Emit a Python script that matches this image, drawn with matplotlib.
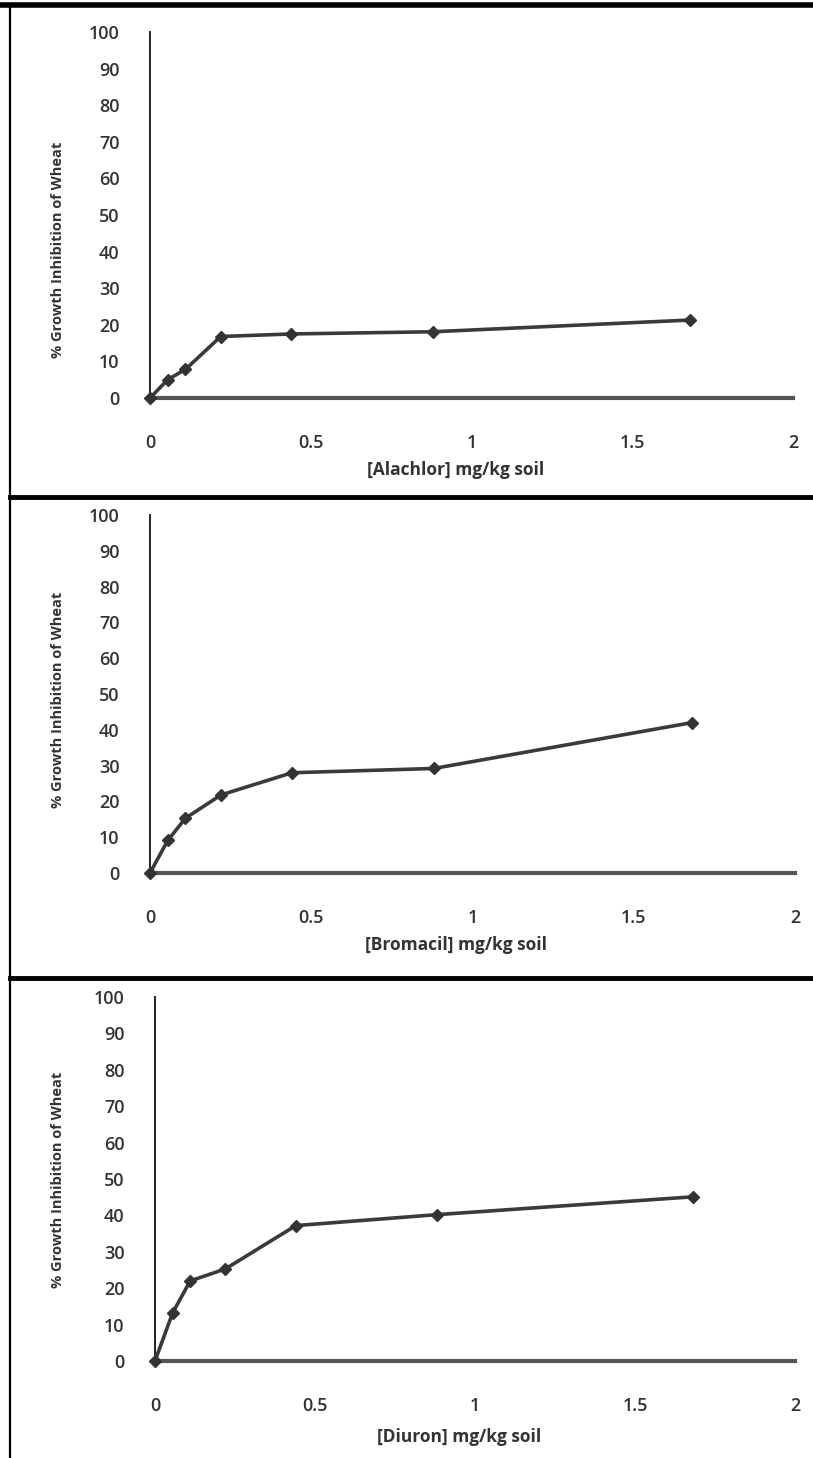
import matplotlib.pyplot as plt
from matplotlib.lines import Line2D

# dose series (mg/kg soil), same for all three herbicides
dose = [0, 0.055, 0.11, 0.22, 0.44, 0.88, 1.68]

alachlor = [0, 5.0, 7.8, 16.8, 17.5, 18.1, 21.3]
bromacil = [0, 9.1, 15.3, 21.8, 28.0, 29.2, 42.0]
diuron = [0, 13.2, 22.0, 25.3, 37.2, 40.2, 45.1]

names = ["[Alachlor] mg/kg soil", "[Bromacil] mg/kg soil", "[Diuron] mg/kg soil"]
xticks = [0, 0.5, 1, 1.5, 2]
xticklabels = ["0", "0.5", "1", "1.5", "2"]
yticks = list(range(0, 101, 10))

W, H = 813, 1458
fig = plt.figure(figsize=(W / 100, H / 100), dpi=100)
plt.rcParams['font.family'] = ['Open Sans', 'DejaVu Sans']

# pixel boxes: (left, right, y of 0, y of 100)
boxes = [(150, 793, 398, 32), (150, 795, 873, 515), (155, 795, 1361, 997)]
label_y = [470, 945, 1437]
ylabel_pos = [(58, 250), (58, 700), (58, 1180)]

for i, (series, name) in enumerate(zip([alachlor, bromacil, diuron], names)):
    l, r, y0, y100 = boxes[i]
    ax = fig.add_axes([l / W, 1 - y0 / H, (r - l) / W, (y0 - y100) / H])
    ax.plot(dose, series, color="#3a3a3a", lw=2.6, marker="D", ms=6.5,
            mfc="#333333", mec="#333333", clip_on=False, zorder=3)
    ax.set_xlim(0, 2)
    ax.set_ylim(0, 100)
    ax.set_xticks(xticks)
    ax.set_xticklabels(xticklabels)
    ax.set_yticks(yticks)
    for s in ["top", "right"]:
        ax.spines[s].set_visible(False)
    ax.spines["left"].set_linewidth(1.4)
    ax.spines["left"].set_color("#222222")
    ax.spines["bottom"].set_linewidth(3)
    ax.spines["bottom"].set_color("#555555")
    ax.tick_params(axis="both", length=0, labelsize=13, colors="#333333")
    ax.tick_params(axis="x", pad=26)
    ax.tick_params(axis="y", pad=22)
    for t in ax.get_xticklabels() + ax.get_yticklabels():
        t.set_fontweight("semibold")
    ax.patch.set_alpha(0)
    fig.text((l + r) / 2 / W - 0.02, 1 - label_y[i] / H, name, ha="center", va="center",
             fontsize=12.5, fontweight="bold", color="#333333")
    fig.text(ylabel_pos[i][0] / W, 1 - ylabel_pos[i][1] / H, "% Growth Inhibition of Wheat",
             rotation=90, ha="center", va="center", fontsize=10.5, fontweight="bold",
             color="#333333")

# panel frame lines
fig.add_artist(Line2D([0, 1], [1 - 5 / H, 1 - 5 / H], color="black", lw=4))
fig.add_artist(Line2D([0.012, 1], [1 - 497 / H, 1 - 497 / H], color="black", lw=3.5))
fig.add_artist(Line2D([0.012, 1], [1 - 978 / H, 1 - 978 / H], color="black", lw=3.5))
fig.add_artist(Line2D([10 / W, 10 / W], [0, 1 - 5 / H], color="black", lw=1.6))

fig.savefig("out.png", dpi=100)
